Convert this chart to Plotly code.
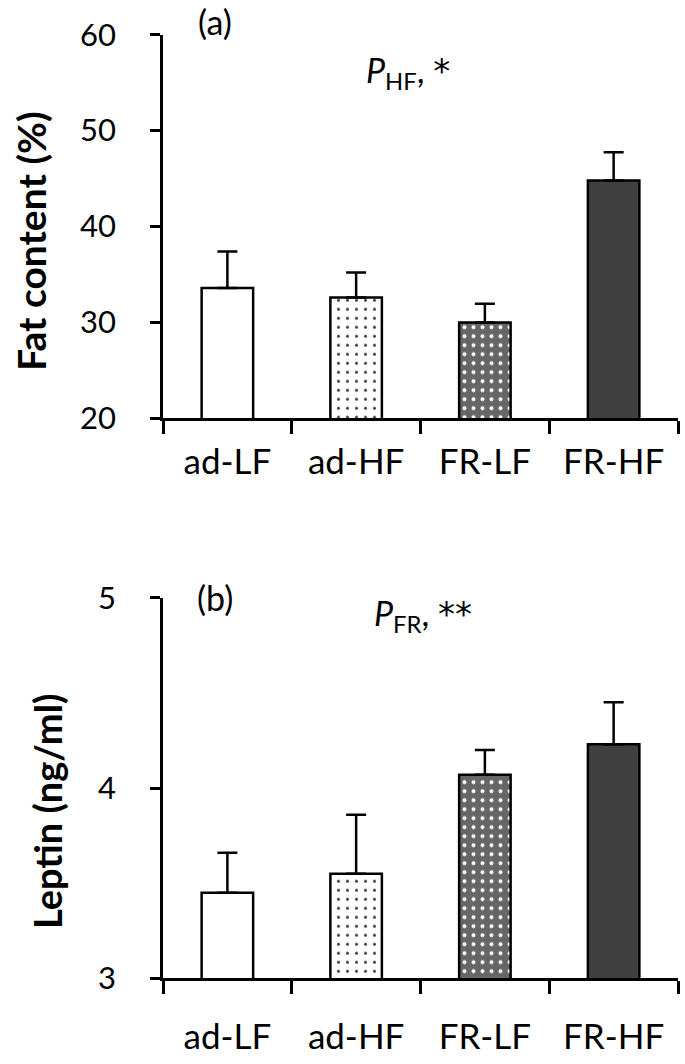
import plotly.graph_objects as go

categories = ["ad-LF", "ad-HF", "FR-LF", "FR-HF"]
fat_values = [33.6, 32.6, 30.0, 44.8]
fat_errors = [3.8, 2.6, 1.95, 2.95]
leptin_values = [3.45, 3.55, 4.07, 4.23]
leptin_errors = [0.21, 0.31, 0.13, 0.22]
fat_ticks = [20, 30, 40, 50, 60]
leptin_ticks = [3, 4, 5]

W, H = 685, 1064
FONT = "Lato"

bg_colors = ["white", "white", "#666666", "#404040"]
pattern_shapes = ["", ".", ".", ""]
pattern_fg = ["black", "black", "white", "black"]
pattern_size = [8, 9, 9, 8]
pattern_solid = [0.2, 0.1, 0.15, 0.2]

fig = go.Figure()

def add_bars(values, errors, xa, ya):
    fig.add_trace(go.Bar(
        x=categories, y=values, xaxis=xa, yaxis=ya, width=0.4,
        marker=dict(
            color=bg_colors,
            line=dict(color="black", width=2.5),
            pattern=dict(shape=pattern_shapes, fgcolor=pattern_fg, bgcolor=bg_colors,
                         size=pattern_size, solidity=pattern_solid, fgopacity=1,
                         fillmode="overlay"),
        ),
        error_y=dict(type="data", array=errors, arrayminus=[0] * len(errors),
                     symmetric=False, color="black", thickness=2.5, width=10),
        showlegend=False, hoverinfo="skip",
    ))

add_bars(fat_values, fat_errors, "x", "y")
add_bars(leptin_values, leptin_errors, "x2", "y2")

xdom = [163 / W, 678 / W]
top_dom = [1 - 418.3 / H, 1 - 34.7 / H]
bot_dom = [1 - 978.3 / H, 1 - 597.7 / H]

xcommon = dict(domain=xdom, range=[-0.5, 3.5], showline=True, linecolor="black", linewidth=2.5,
               ticks="outside", tickson="boundaries", ticklen=13, tickwidth=2.5, tickcolor="black",
               tickfont=dict(family=FONT, size=35, color="black"),
               showgrid=False, zeroline=False, fixedrange=True, automargin=False)
ycommon = dict(showline=True, linecolor="black", linewidth=2.5, ticks="outside", ticklen=10,
               tickwidth=2.5, tickcolor="black", tickfont=dict(family=FONT, size=31, color="black"),
               showgrid=False, zeroline=False, ticklabelstandoff=28, fixedrange=True, automargin=False)

fig.update_layout(
    width=W, height=H, margin=dict(l=0, r=0, t=0, b=0, autoexpand=False),
    paper_bgcolor="white", plot_bgcolor="white", bargap=0.6,
    xaxis=dict(**xcommon, anchor="y", ticklabelstandoff=11),
    xaxis2=dict(**xcommon, anchor="y2", ticklabelstandoff=26),
    yaxis=dict(**ycommon, domain=top_dom, range=[20, 60], tickvals=fat_ticks, anchor="x"),
    yaxis2=dict(**ycommon, domain=bot_dom, range=[3, 5], tickvals=leptin_ticks, anchor="x2"),
)

def ann(text, x, y, size, bold=False, angle=0):
    fig.add_annotation(text=("<b>%s</b>" % text) if bold else text, x=x / W, y=1 - y / H,
                       xref="paper", yref="paper", showarrow=False, textangle=angle,
                       font=dict(family=FONT, size=size, color="black"),
                       xanchor="center", yanchor="middle")

ann("(a)", 215, 22, 34)
ann("(b)", 215, 597, 34)
ann("<i>P</i><sub>HF</sub>, <span style='font-family:DejaVu Sans'>*</span>", 408, 72, 34)
ann("<i>P</i><sub>FR</sub>, <span style='font-family:DejaVu Sans'>**</span>", 423, 615, 34)
ann("Fat content (%)", 31, 241, 39, bold=True, angle=-90)
ann("Leptin (ng/ml)", 47, 811, 38, bold=True, angle=-90)

fig.write_html("out.html", config={"displayModeBar": False},
               post_script="document.body.style.margin='0';")
